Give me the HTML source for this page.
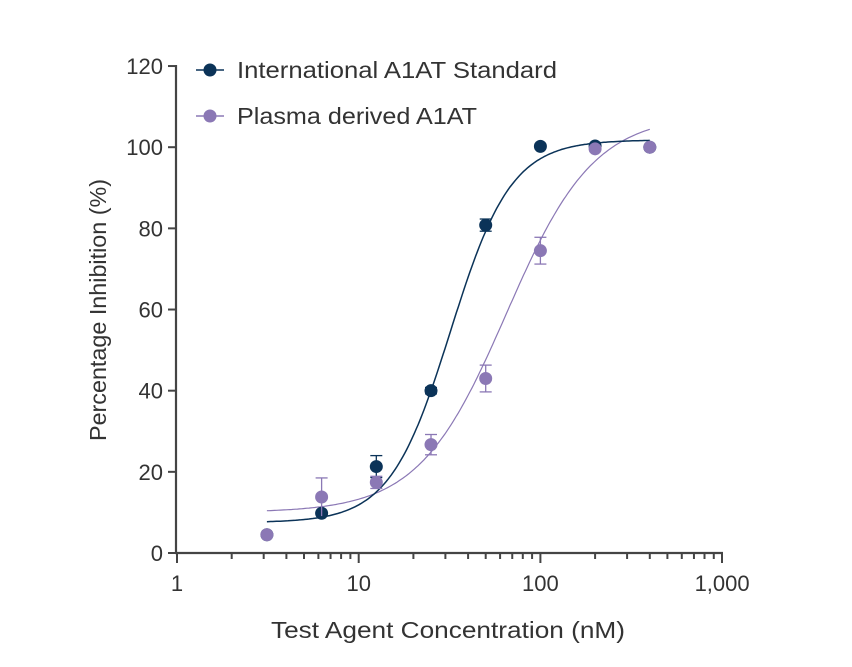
<!DOCTYPE html>
<html><head><meta charset="utf-8"><style>
html,body{margin:0;padding:0;background:#fff;}
svg{display:block;font-family:"Liberation Sans",sans-serif;}
</style></head><body>
<svg id="s" width="852" height="667" viewBox="0 0 852 667" xmlns="http://www.w3.org/2000/svg">
<g id="g"></g>
<text x="271" y="638" font-size="23" fill="#333" textLength="354" lengthAdjust="spacingAndGlyphs">Test Agent Concentration (nM)</text>
<text transform="translate(106,441) rotate(-90)" font-size="23" fill="#333" textLength="262" lengthAdjust="spacingAndGlyphs">Percentage Inhibition (%)</text>
<line x1="196" y1="70" x2="224" y2="70" stroke="#0b3358" stroke-width="1.5"/>
<circle cx="210" cy="70" r="6.5" fill="#0b3358"/>
<text x="237" y="78" font-size="23" fill="#333" textLength="320" lengthAdjust="spacingAndGlyphs">International A1AT Standard</text>
<line x1="196" y1="116" x2="224" y2="116" stroke="#8b78b5" stroke-width="1.5"/>
<circle cx="210" cy="116" r="6.5" fill="#8b78b5"/>
<text x="237" y="124" font-size="23" fill="#333" textLength="240" lengthAdjust="spacingAndGlyphs">Plasma derived A1AT</text>
</svg>
<script>
var g=document.getElementById('g'),h='';
function X(c){return 177+Math.log10(c)*181.7}
function Y(v){return 553-v*4.058}
var ax='#444';
h+='<line x1="176" y1="65" x2="176" y2="554" stroke="'+ax+'" stroke-width="2.2"/>';
h+='<line x1="175" y1="553" x2="723" y2="553" stroke="'+ax+'" stroke-width="2.2"/>';
for(var v=0;v<=120;v+=20){var y=Y(v);h+='<line x1="168" y1="'+y+'" x2="176" y2="'+y+'" stroke="'+ax+'" stroke-width="2"/>';
h+='<text x="163" y="'+(y+8)+'" font-size="22" fill="#333" text-anchor="end">'+v+'</text>';}
for(var d=0;d<3;d++)for(var k=1;k<10;k++){var x=X(k*Math.pow(10,d));var L=k==1?10:6;
h+='<line x1="'+x+'" y1="553" x2="'+x+'" y2="'+(553+L)+'" stroke="'+ax+'" stroke-width="2"/>';}
h+='<line x1="722" y1="553" x2="722" y2="563" stroke="'+ax+'" stroke-width="2"/>';
var lab=['1','10','100','1,000'];
for(var i=0;i<4;i++)h+='<text x="'+X(Math.pow(10,i))+'" y="591" font-size="22" fill="#333" text-anchor="middle">'+lab[i]+'</text>';
function curve(b,t,ec,n,col,w){var p='';for(var i=0;i<=200;i++){var lc=Math.log10(3.125)+i/200*(Math.log10(400)-Math.log10(3.125));var c=Math.pow(10,lc);
var v=b+(t-b)/(1+Math.pow(ec/c,n));p+=(i?'L':'M')+X(c).toFixed(1)+','+Y(v).toFixed(1);}
return '<path d="'+p+'" fill="none" stroke="'+col+'" stroke-width="'+w+'"/>';}
var B='#0b3358',P='#8b78b5';
h+=curve(10,108,65,1.8,P,1.2);
h+=curve(7.5,101.8,32,2.6,B,1.5);
var conc=[3.125,6.25,12.5,25,50,100,200,400];
var pb=[[4.5,0],[9.8,0],[21.3,2.7],[40,0.8],[80.8,1.5],[100.2,0],[100.3,0],[100,0]];
var pp=[[4.5,0],[13.8,4.7],[17.4,1.5],[26.7,2.5],[43,3.3],[74.5,3.3],[99.6,0],[100,0]];
function pts(d,col,up){var s='';for(var i=0;i<8;i++){var x=X(conc[i]),v=d[i][0],e=d[i][1];
if(e>0){var y1=Y(v+e),y2=Y(v-e);s+='<line x1="'+x+'" y1="'+y1+'" x2="'+x+'" y2="'+y2+'" stroke="'+col+'" stroke-width="1.3"/><line x1="'+(x-6)+'" y1="'+y1+'" x2="'+(x+6)+'" y2="'+y1+'" stroke="'+col+'" stroke-width="1.3"/>'+(i==1&&up?'':'<line x1="'+(x-6)+'" y1="'+y2+'" x2="'+(x+6)+'" y2="'+y2+'" stroke="'+col+'" stroke-width="1.3"/>');}
s+='<circle cx="'+x+'" cy="'+Y(v)+'" r="6.5" fill="'+col+'"/>';}return s;}
h+=pts(pb,B,false);
h+=pts(pp,P,true);
g.innerHTML=h;
</script>
</body></html>
